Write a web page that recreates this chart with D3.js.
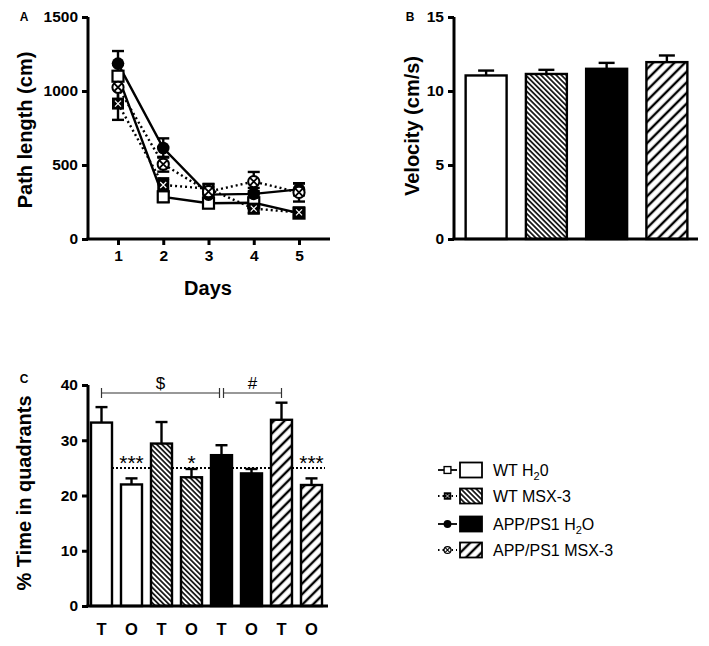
<!DOCTYPE html>
<html><head><meta charset="utf-8">
<script src="https://cdn.jsdelivr.net/npm/d3@7"></script>
<style>body{margin:0;background:#fff}svg{display:block;font-family:"Liberation Sans",Arial,sans-serif}</style>
</head><body><svg id="c" width="709" height="646"></svg>
<script>
// ---------- DATA ----------
const days = [1, 2, 3, 4, 5];
const groups = ["WT H2O", "WT MSX-3", "APP/PS1 H2O", "APP/PS1 MSX-3"];
const pathWtH2o = [1100, 285, 242, 245, 175];
const pathWtH2oErr = [80, 35, 25, 30, 20];
const pathWtMsx = [915, 365, 340, 205, 180];
const pathWtMsxErr = [110, 45, 30, 30, 25];
const pathAppH2o = [1185, 615, 300, 305, 335];
const pathAppH2oErr = [85, 65, 30, 40, 40];
const pathAppMsx = [1025, 505, 320, 388, 315];
const pathAppMsxErr = [90, 50, 30, 65, 62];
const velocity = [11.05, 11.15, 11.5, 11.95];
const velocityErr = [0.33, 0.28, 0.4, 0.45];
const quadLabels = ["T", "O", "T", "O", "T", "O", "T", "O"];
const quadGroup = [0, 0, 1, 1, 2, 2, 3, 3];
const quadTime = [33.2, 22.0, 29.4, 23.3, 27.3, 24.0, 33.7, 21.9];
const quadErr = [2.8, 1.1, 3.9, 1.5, 1.8, 0.8, 3.1, 1.2];
const quadStars = ["", "***", "", "*", "", "", "", "***"];
const chanceLevel = 25;
const pathTicks = [0, 500, 1000, 1500];
const velTicks = [0, 5, 10, 15];
const quadTicks = [0, 10, 20, 30, 40];

// ---------- SETUP ----------
const svg = d3.select("#c");
const defs = svg.append("defs");
function hatch(id, w, angle, sw) {
  const p = defs.append("pattern").attr("id", id).attr("patternUnits", "userSpaceOnUse")
    .attr("width", w).attr("height", w).attr("patternTransform", `rotate(${angle})`);
  p.append("rect").attr("width", w).attr("height", w).attr("fill", "#fff");
  p.append("line").attr("x1", w / 2).attr("x2", w / 2).attr("y1", -1).attr("y2", w + 1)
    .attr("stroke", "#000").attr("stroke-width", sw);
}
hatch("hWt", 3.6, -45, 1.6);
hatch("hApp", 7.5, 45, 2.4);
const fills = ["#fff", "url(#hWt)", "#000", "url(#hApp)"];
const AX = 3;

function yAxis(g, scale, ticks) {
  g.call(d3.axisLeft(scale).tickValues(ticks).tickSize(6).tickPadding(4).tickFormat(d3.format("d")));
  g.select(".domain").attr("stroke-width", AX).attr("d", `M0,${scale.range()[0]}V${scale.range()[1]}`);
  g.selectAll(".tick line").attr("stroke-width", AX);
  g.selectAll(".tick text").attr("font-size", 15.5).attr("font-weight", "bold").attr("font-family", "Liberation Sans, Arial");
}
function label(x, y, txt, size, bold, rot) {
  return svg.append("text").attr("transform", `translate(${x},${y})` + (rot ? " rotate(-90)" : ""))
    .attr("text-anchor", "middle").attr("font-size", size).attr("font-weight", bold ? "bold" : "normal").text(txt);
}

// ---------- PANEL A ----------
const xA = d3.scaleLinear().domain([0.337, 5.685]).range([88, 330]);
const yA = d3.scaleLinear().domain([0, 1500]).range([239, 17]);
svg.append("g").attr("transform", "translate(88,0)").call(g => yAxis(g, yA, pathTicks));
const gxA = svg.append("g").attr("transform", "translate(0,239)")
  .call(d3.axisBottom(xA).tickValues(days).tickSize(6).tickPadding(5).tickFormat(d3.format("d")));
gxA.select(".domain").attr("stroke-width", AX).attr("d", `M${xA.range()[0] - 1.5},0H${xA.range()[1]}`);
gxA.selectAll(".tick line").attr("stroke-width", AX);
gxA.selectAll(".tick text").attr("font-size", 15.5).attr("font-weight", "bold");

const seriesA = [
  { v: pathWtH2o, e: pathWtH2oErr, dash: null, m: "sq" },
  { v: pathWtMsx, e: pathWtMsxErr, dash: "2,3", m: "sqx" },
  { v: pathAppH2o, e: pathAppH2oErr, dash: null, m: "ci" },
  { v: pathAppMsx, e: pathAppMsxErr, dash: "2,3", m: "cix" }
];
const line = d3.line().x((d, i) => xA(days[i])).y(d => yA(d));
seriesA.forEach(s => {
  svg.append("path").datum(s.v).attr("d", line).attr("fill", "none").attr("stroke", "#000")
    .attr("stroke-width", 2.4).attr("stroke-dasharray", s.dash);
});
seriesA.forEach(s => {
  s.v.forEach((v, i) => {
    const x = xA(days[i]);
    const g = svg.append("g").attr("stroke", "#000").attr("stroke-width", 2.4);
    g.append("line").attr("x1", x).attr("x2", x).attr("y1", yA(v - s.e[i])).attr("y2", yA(v + s.e[i]));
    [v - s.e[i], v + s.e[i]].forEach(t => g.append("line").attr("x1", x - 6).attr("x2", x + 6).attr("y1", yA(t)).attr("y2", yA(t)));
  });
});
function marker(g, m, x, y, sc) {
  const k = sc || 1;
  if (m === "sq") g.append("rect").attr("x", x - 5.5 * k).attr("y", y - 5.5 * k).attr("width", 11 * k).attr("height", 11 * k)
    .attr("fill", "#fff").attr("stroke", "#000").attr("stroke-width", 2.2 * k);
  if (m === "sqx") {
    g.append("rect").attr("x", x - 6 * k).attr("y", y - 6 * k).attr("width", 12 * k).attr("height", 12 * k).attr("fill", "#000");
    g.append("path").attr("d", `M${x - 3 * k},${y - 3 * k}L${x + 3 * k},${y + 3 * k}M${x + 3 * k},${y - 3 * k}L${x - 3 * k},${y + 3 * k}`)
      .attr("stroke", "#fff").attr("stroke-width", 1.2 * k);
  }
  if (m === "ci") g.append("circle").attr("cx", x).attr("cy", y).attr("r", 6.3 * k).attr("fill", "#000");
  if (m === "cix") {
    g.append("circle").attr("cx", x).attr("cy", y).attr("r", 5.6 * k).attr("fill", "#fff").attr("stroke", "#000").attr("stroke-width", 2 * k);
    g.append("path").attr("d", `M${x - 3.7 * k},${y - 3.7 * k}L${x + 3.7 * k},${y + 3.7 * k}M${x + 3.7 * k},${y - 3.7 * k}L${x - 3.7 * k},${y + 3.7 * k}`)
      .attr("stroke", "#000").attr("stroke-width", 1.8 * k);
  }
}
seriesA.forEach(s => s.v.forEach((v, i) => marker(svg.append("g"), s.m, xA(days[i]), yA(v))));
label(208, 295, "Days", 20, true);
label(32, 130, "Path length (cm)", 20, true, true);
label(24, 21, "A", 12, true);

// ---------- PANEL B ----------
const xB = d3.scaleBand().domain(groups).range([456, 697]).paddingInner(0.32).paddingOuter(0.16);
const yB = d3.scaleLinear().domain([0, 15]).range([239, 17]);
velocity.forEach((v, i) => {
  const x = xB(groups[i]), w = xB.bandwidth(), cx = x + w / 2;
  const g = svg.append("g").attr("stroke", "#000").attr("stroke-width", 2.4);
  g.append("line").attr("x1", cx).attr("x2", cx).attr("y1", yB(v)).attr("y2", yB(v + velocityErr[i]));
  g.append("line").attr("x1", cx - 8).attr("x2", cx + 8).attr("y1", yB(v + velocityErr[i])).attr("y2", yB(v + velocityErr[i]));
  g.append("rect").attr("x", x).attr("y", yB(v)).attr("width", w).attr("height", yB(0) - yB(v)).attr("fill", fills[i]);
});
svg.append("g").attr("transform", "translate(454,0)").call(g => yAxis(g, yB, velTicks));
svg.append("line").attr("x1", 452.5).attr("x2", 698).attr("y1", 239).attr("y2", 239).attr("stroke", "#000").attr("stroke-width", AX);
label(419, 126, "Velocity (cm/s)", 20, true, true);
label(410, 21, "B", 12, true);

// ---------- PANEL C ----------
const xC = d3.scaleBand().domain(d3.range(quadTime.length)).range([88, 325]).paddingInner(0.3).paddingOuter(0.1);
const yC = d3.scaleLinear().domain([0, 40]).range([606, 385]);
svg.append("line").attr("x1", 112).attr("x2", 325).attr("y1", yC(chanceLevel)).attr("y2", yC(chanceLevel))
  .attr("stroke", "#000").attr("stroke-width", 2).attr("stroke-dasharray", "2,2");
quadTime.forEach((v, i) => {
  const x = xC(i), w = xC.bandwidth(), cx = x + w / 2;
  const g = svg.append("g").attr("stroke", "#000").attr("stroke-width", 2.4);
  g.append("line").attr("x1", cx).attr("x2", cx).attr("y1", yC(v)).attr("y2", yC(v + quadErr[i]));
  g.append("line").attr("x1", cx - 6).attr("x2", cx + 6).attr("y1", yC(v + quadErr[i])).attr("y2", yC(v + quadErr[i]));
  g.append("rect").attr("x", x).attr("y", yC(v)).attr("width", w).attr("height", yC(0) - yC(v)).attr("fill", fills[quadGroup[i]]);
  if (quadStars[i]) svg.append("text").attr("x", cx).attr("y", 470).attr("text-anchor", "middle").attr("font-size", 21).text(quadStars[i]);
  svg.append("text").attr("x", cx).attr("y", 635).attr("text-anchor", "middle").attr("font-size", 16.5).attr("font-weight", "bold").text(quadLabels[i]);
});
svg.append("g").attr("transform", "translate(88,0)").call(g => yAxis(g, yC, quadTicks));
svg.append("line").attr("x1", 86.5).attr("x2", 328).attr("y1", 606).attr("y2", 606).attr("stroke", "#000").attr("stroke-width", AX);
// brackets
function bracket(x1, x2, y, txt) {
  const g = svg.append("g").attr("stroke", "#333").attr("stroke-width", 1.2);
  g.append("line").attr("x1", x1).attr("x2", x2).attr("y1", y).attr("y2", y);
  g.append("line").attr("x1", x1).attr("x2", x1).attr("y1", y - 5).attr("y2", y + 5);
  g.append("line").attr("x1", x2).attr("x2", x2).attr("y1", y - 5).attr("y2", y + 5);
  svg.append("text").attr("x", (x1 + x2) / 2).attr("y", y - 4).attr("text-anchor", "middle").attr("font-size", 17).text(txt);
}
bracket(xC(0) + xC.bandwidth() / 2, xC(4) + xC.bandwidth() / 2 - 2, 393, "$");
bracket(xC(4) + xC.bandwidth() / 2 + 2, xC(6) + xC.bandwidth() / 2, 393, "#");
label(31, 493, "% Time in quadrants", 20, true, true);
label(24, 383, "C", 12, true);

// ---------- LEGEND ----------
const legendY = [470, 496, 524, 550];
const legendText = [["WT H", "2", "0"], ["WT MSX-3"], ["APP/PS1 H", "2", "O"], ["APP/PS1 MSX-3"]];
const legDash = [null, "1.5,3", null, "1.5,3"];
const legM = ["sq", "sqx", "ci", "cix"];
legendY.forEach((y, i) => {
  svg.append("line").attr("x1", 438).attr("x2", 457).attr("y1", y).attr("y2", y).attr("stroke", "#000")
    .attr("stroke-width", 1.8).attr("stroke-dasharray", legDash[i]);
  marker(svg.append("g"), legM[i], 447.5, y, 0.62);
  svg.append("rect").attr("x", 460).attr("y", y - 7.5).attr("width", 22).attr("height", 15)
    .attr("fill", fills[i]).attr("stroke", "#000").attr("stroke-width", 1.8);
  const t = svg.append("text").attr("x", 493).attr("y", y + 5.5).attr("font-size", 16);
  const parts = legendText[i];
  t.append("tspan").text(parts[0]);
  if (parts.length > 1) {
    t.append("tspan").attr("dy", 4).attr("font-size", 11).text(parts[1]);
    t.append("tspan").attr("dy", -4).text(parts[2]);
  }
});
</script></body></html>
